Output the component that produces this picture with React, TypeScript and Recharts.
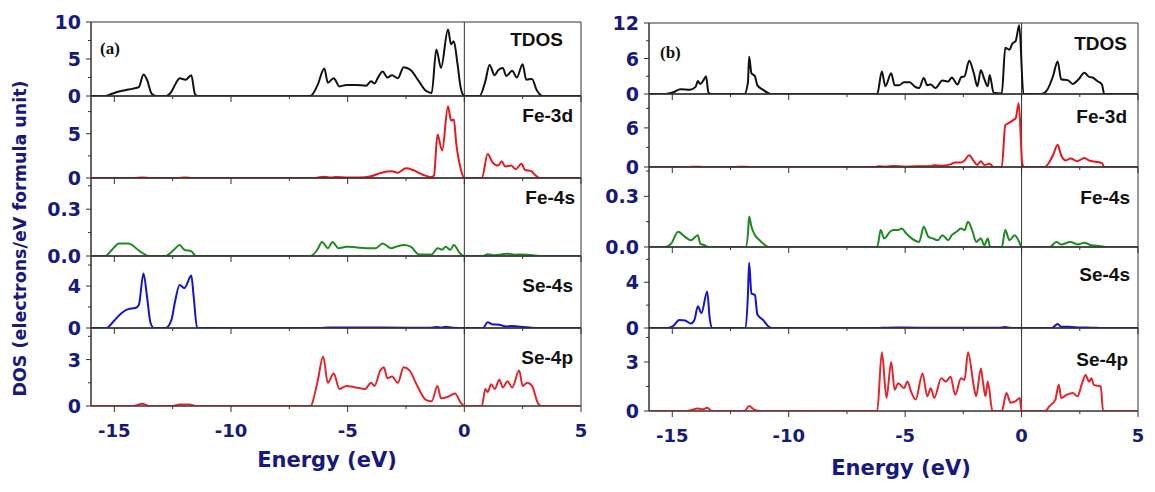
import React from 'react'
import { LineChart, Line, XAxis, YAxis, ReferenceLine, ReferenceArea } from 'recharts'

type Pair = [number, number]

const NAVY = '#18197c'
const FRAME = '#333333'
const SANS = '"Liberation Sans", Arial, sans-serif'
const WIDE = '"DejaVu Sans", sans-serif'

const energyTicks = [-15, -12.5, -10, -7.5, -5, -2.5, 0, 2.5, 5]
const panelTags = ['(a)', '(b)']
const subLabels = ['TDOS', 'Fe-3d', 'Fe-4s', 'Se-4s', 'Se-4p']

// panel (a)
const tdosA: Pair[] = [[-16,0],[-15.4,0],[-15.1,0.3],[-14.8,0.6],[-14.5,0.8],[-14.2,1.0],[-13.95,1.2],[-13.75,2.9],[-13.6,2.2],[-13.4,0.3],[-13.2,0],[-12.8,0],[-12.55,0.6],[-12.35,1.8],[-12.2,2.4],[-11.95,2.2],[-11.7,2.8],[-11.55,0.3],[-11.45,0],[-6.6,0],[-6.3,1.4],[-6.0,3.7],[-5.85,1.8],[-5.6,2.4],[-5.35,1.3],[-5.05,1.5],[-4.65,1.5],[-4.2,1.4],[-4.0,2.0],[-3.85,1.7],[-3.7,2.5],[-3.5,3.3],[-3.3,2.5],[-3.1,2.8],[-2.85,2.4],[-2.6,3.9],[-2.3,3.5],[-1.95,2.0],[-1.65,0.7],[-1.4,0.4],[-1.2,6.3],[-1.0,3.8],[-0.7,9.0],[-0.57,7.0],[-0.45,7.4],[-0.3,4.5],[-0.15,1.0],[0,0],[0.65,0],[0.9,2.0],[1.08,4.2],[1.3,2.8],[1.45,3.5],[1.65,3.8],[1.8,2.7],[2.05,3.4],[2.25,2.5],[2.5,4.3],[2.65,2.2],[2.9,2.3],[3.1,0.8],[3.35,0],[5,0]]
const fe3dA: Pair[] = [[-16,0],[-14.2,0],[-13.8,0.06],[-13.4,0],[-12.3,0],[-12.0,0.05],[-11.6,0],[-6.4,0],[-6.0,0.15],[-5.7,0.05],[-5.5,0.1],[-5.0,0.05],[-4.5,0.05],[-4.0,0.2],[-3.55,0.6],[-3.1,0.75],[-2.85,0.6],[-2.5,1.1],[-2.2,0.9],[-1.8,0.4],[-1.4,0.1],[-1.3,0.3],[-1.15,4.9],[-0.95,3.1],[-0.7,8.1],[-0.57,6.5],[-0.45,6.6],[-0.35,4.0],[-0.15,1.0],[0,0],[0.75,0],[1.0,2.7],[1.2,1.8],[1.45,1.4],[1.6,1.9],[1.75,1.3],[2.0,1.4],[2.2,1.0],[2.45,1.6],[2.6,0.9],[2.85,0.8],[3.05,0.3],[3.25,0],[5,0]]
const fe4sA: Pair[] = [[-16,0],[-15.4,0],[-15.1,0.04],[-14.8,0.08],[-14.4,0.08],[-13.9,0.03],[-13.5,0],[-12.8,0],[-12.45,0.04],[-12.2,0.07],[-12.0,0.04],[-11.7,0.03],[-11.5,0],[-6.6,0],[-6.3,0.04],[-6.1,0.09],[-5.85,0.05],[-5.65,0.09],[-5.4,0.05],[-5.05,0.06],[-4.6,0.055],[-4.2,0.05],[-3.8,0.05],[-3.5,0.08],[-3.15,0.05],[-2.9,0.06],[-2.6,0.07],[-2.3,0.06],[-1.95,0.01],[-1.4,0.01],[-1.15,0.05],[-0.95,0.04],[-0.8,0.06],[-0.6,0.04],[-0.45,0.07],[-0.2,0.02],[0,0],[0.8,0],[1.0,0.012],[1.3,0.005],[1.6,0.01],[1.85,0.015],[2.2,0.008],[2.5,0.01],[3.0,0.004],[3.3,0],[5,0]]
const se4sA: Pair[] = [[-16,0],[-15.35,0],[-15.05,0.6],[-14.8,1.2],[-14.4,1.8],[-14.1,1.9],[-13.95,2.2],[-13.75,5.2],[-13.6,3.0],[-13.45,0.5],[-13.3,0],[-12.8,0],[-12.55,0.8],[-12.4,2.5],[-12.2,4.1],[-12.0,3.8],[-11.7,5.0],[-11.6,3.0],[-11.45,0],[-6.2,0],[-5.8,0.05],[-4.5,0.04],[-3.5,0.04],[-1.5,0.02],[-1.2,0.1],[-1.0,0.03],[-0.8,0.12],[-0.5,0.02],[0,0],[0.8,0],[1.0,0.55],[1.2,0.35],[1.5,0.3],[1.8,0.15],[2.0,0.2],[2.3,0.15],[2.8,0.05],[3.2,0],[5,0]]
const se4pA: Pair[] = [[-16,0],[-14.2,0],[-13.8,0.15],[-13.5,0],[-12.5,0],[-12.2,0.1],[-11.8,0.1],[-11.5,0],[-6.6,0],[-6.3,1.5],[-6.05,3.2],[-5.85,1.5],[-5.6,2.1],[-5.35,1.1],[-5.05,1.3],[-4.65,1.2],[-4.25,1.1],[-4.0,1.5],[-3.85,1.3],[-3.6,2.3],[-3.45,2.5],[-3.3,1.8],[-3.1,1.9],[-2.85,1.5],[-2.6,2.5],[-2.35,2.3],[-2.05,1.4],[-1.65,0.4],[-1.4,0.3],[-1.15,1.3],[-1.0,0.5],[-0.7,0.6],[-0.4,0.8],[-0.15,0.2],[0,0],[0.75,0],[0.9,1.1],[1.0,0.9],[1.15,1.4],[1.3,1.1],[1.5,1.7],[1.65,1.2],[1.85,1.6],[2.05,1.2],[2.35,2.3],[2.5,1.3],[2.7,1.5],[2.9,1.3],[3.15,0.2],[3.3,0],[5,0]]

// panel (b)
const tdosB: Pair[] = [[-16,0],[-15.3,0],[-14.95,0.3],[-14.65,0.8],[-14.25,0.7],[-14.0,1.2],[-13.9,2.2],[-13.8,1.7],[-13.65,2.4],[-13.55,3.0],[-13.45,0.3],[-13.35,0],[-11.9,0],[-11.75,2.0],[-11.7,6.3],[-11.6,3.5],[-11.45,3.0],[-11.35,1.5],[-11.1,0.7],[-10.85,0.1],[-10.7,0],[-6.2,0],[-6.0,3.8],[-5.85,1.3],[-5.6,3.5],[-5.45,1.5],[-5.25,1.5],[-5.05,2.0],[-4.8,2.0],[-4.6,1.3],[-4.4,1.0],[-4.2,2.7],[-4.05,1.5],[-3.9,1.6],[-3.7,1.0],[-3.4,2.3],[-3.15,2.1],[-3.0,2.8],[-2.75,1.6],[-2.6,2.8],[-2.45,3.0],[-2.25,5.6],[-2.05,3.5],[-1.9,1.3],[-1.75,4.0],[-1.6,2.5],[-1.45,1.3],[-1.37,3.2],[-1.2,0.2],[-0.85,0.1],[-0.7,7.8],[-0.52,7.5],[-0.4,8.5],[-0.25,9.0],[-0.1,11.6],[0.08,0],[0.85,0],[1.1,0.7],[1.35,3.0],[1.55,5.5],[1.7,2.5],[2.0,2.3],[2.2,1.7],[2.45,2.5],[2.7,3.6],[2.9,2.9],[3.05,2.8],[3.25,2.2],[3.45,1.6],[3.55,0],[5,0]]
const fe3dB: Pair[] = [[-16,0],[-14.3,0],[-14.0,0.05],[-13.7,0],[-12.3,0],[-12.0,0.05],[-11.7,0],[-6.3,0],[-6.15,0.1],[-5.8,0.05],[-5.5,0.15],[-5.0,0.05],[-4.5,0.1],[-4.0,0.1],[-3.75,0.25],[-3.45,0.2],[-3.05,0.4],[-2.85,0.7],[-2.6,0.7],[-2.45,1.0],[-2.25,1.8],[-2.05,0.9],[-1.9,0.3],[-1.75,0.9],[-1.6,0.3],[-1.37,0.5],[-1.2,0],[-0.85,0],[-0.7,6.4],[-0.52,6.8],[-0.36,7.2],[-0.25,7.5],[-0.12,9.8],[0.03,0.5],[0.1,0],[1.0,0],[1.2,0.8],[1.35,1.8],[1.55,3.4],[1.7,1.8],[1.9,1.0],[2.1,1.3],[2.4,0.9],[2.7,1.4],[2.9,1.0],[3.2,0.8],[3.45,0.6],[3.55,0],[5,0]]
const fe4sB: Pair[] = [[-16,0],[-15.3,0],[-15.05,0.02],[-14.75,0.09],[-14.45,0.06],[-14.2,0.04],[-13.9,0.07],[-13.8,0.02],[-13.6,0.01],[-13.45,0],[-11.85,0],[-11.75,0.08],[-11.7,0.18],[-11.6,0.12],[-11.45,0.07],[-11.25,0.04],[-11.0,0.01],[-10.85,0],[-6.2,0],[-6.05,0.1],[-5.9,0.05],[-5.65,0.09],[-5.5,0.1],[-5.3,0.1],[-5.15,0.11],[-4.95,0.08],[-4.8,0.06],[-4.6,0.04],[-4.4,0.03],[-4.2,0.12],[-4.0,0.06],[-3.8,0.05],[-3.6,0.04],[-3.4,0.07],[-3.15,0.04],[-3.0,0.07],[-2.8,0.09],[-2.6,0.11],[-2.45,0.1],[-2.3,0.15],[-2.1,0.09],[-1.95,0.03],[-1.75,0.05],[-1.6,0.01],[-1.45,0.05],[-1.35,0],[-0.85,0],[-0.7,0.1],[-0.52,0.04],[-0.3,0.07],[-0.1,0.03],[0,0],[1.2,0],[1.5,0.03],[1.7,0.015],[2.1,0.03],[2.4,0.015],[2.7,0.025],[3.0,0.01],[3.4,0.005],[3.6,0],[5,0]]
const se4sB: Pair[] = [[-16,0],[-15.2,0],[-14.95,0.2],[-14.7,0.7],[-14.45,0.65],[-14.2,0.4],[-14.05,0.7],[-13.9,1.9],[-13.75,1.3],[-13.5,3.2],[-13.4,1.0],[-13.3,0],[-11.85,0],[-11.75,3.0],[-11.7,5.7],[-11.6,3.0],[-11.45,2.9],[-11.35,1.2],[-11.1,0.7],[-10.85,0.1],[-10.7,0],[-6.2,0],[-5.8,0.03],[-5.0,0.04],[-4.0,0.02],[-1.0,0.02],[-0.7,0.08],[-0.5,0.02],[0,0],[1.3,0],[1.55,0.35],[1.7,0.1],[2.0,0.1],[2.5,0.05],[3.0,0.03],[3.5,0],[5,0]]
const se4pB: Pair[] = [[-16,0],[-14.4,0],[-14.2,0.05],[-13.9,0.15],[-13.7,0.1],[-13.5,0.2],[-13.3,0],[-11.9,0],[-11.7,0.3],[-11.5,0.1],[-11.2,0],[-6.2,0],[-6.0,3.6],[-5.8,0.8],[-5.6,3.0],[-5.45,1.3],[-5.3,1.7],[-5.05,1.4],[-4.9,1.8],[-4.75,1.2],[-4.55,0.7],[-4.25,2.3],[-4.05,0.9],[-3.9,1.4],[-3.75,0.8],[-3.45,2.0],[-3.25,1.8],[-3.05,2.1],[-2.85,1.0],[-2.6,2.0],[-2.45,1.9],[-2.3,3.6],[-2.05,1.5],[-1.95,0.9],[-1.75,2.6],[-1.65,1.7],[-1.55,0.9],[-1.45,1.8],[-1.25,0],[-0.85,0],[-0.65,1.1],[-0.47,0.5],[-0.25,0.6],[-0.08,0.8],[0,0],[1.0,0],[1.2,0.3],[1.45,0.7],[1.6,1.6],[1.7,0.8],[1.95,1.0],[2.2,1.1],[2.4,0.9],[2.6,1.7],[2.75,2.2],[2.9,1.8],[3.0,2.0],[3.1,1.6],[3.4,1.5],[3.5,0],[5,0]]

const colors = ['#111111', '#e4191c', '#1f8a22', '#1414d0', '#e2262e']
const yTicksA = [[0, 2.5, 5, 7.5, 10], [0, 2.5, 5, 7.5], [0, 0.15, 0.3, 0.45], [0, 2, 4, 6], [0, 1.5, 3, 4.5]]
const yMajorA = [[0, 5, 10], [0, 5], [0, 0.3], [0, 4], [0, 3]]
const yMaxA = [10, 9.26, 0.5, 6.86, 5.04]
const yTicksB = [[0, 3, 6, 9, 12], [0, 3, 6, 9], [0, 0.15, 0.3, 0.45], [0, 2, 4, 6], [0, 1.5, 3, 4.5]]
const yMajorB = [[0, 6, 12], [0, 6], [0, 0.3], [0, 4], [0, 3]]
const yMaxB = [12, 11.2, 0.474, 7.08, 5.08]

const rows = (p: Pair[]) => p.map(([e, v]) => ({ e, v }))

const YW = 91
const PT = 4
const PR = 10

type SubProps = {
  pairs: Pair[]
  color: string
  yMax: number
  ticks: number[]
  major: number[]
  dec: number
  left: number
  top: number
  bottom: number
  width: number
  last: boolean
}

function Sub({ pairs, color, yMax, ticks, major, dec, left, top, bottom, width, last }: SubProps) {
  const h = bottom - top
  const xh = last ? 50 : 10
  const yTick = (p: any) => {
    const v = p.payload.value
    const isMajor = major.includes(v)
    return (
      <g>
        <line x1={p.x - (isMajor ? 5 : 3)} x2={p.x} y1={p.y} y2={p.y} stroke={FRAME} strokeWidth={1} />
        {isMajor && (
          <text x={p.x - 10} y={p.y} dy={7} textAnchor="end" fontSize={19} fontWeight="bold" fill={NAVY} fontFamily={WIDE}>
            {v.toFixed(dec)}
          </text>
        )}
      </g>
    )
  }
  const xTick = (p: any) => {
    const v = p.payload.value
    const isMajor = v % 5 === 0
    return (
      <g>
        <line x1={p.x} x2={p.x} y1={p.y} y2={p.y + (isMajor ? 6 : 3)} stroke={FRAME} strokeWidth={1} />
        {last && isMajor && (
          <text x={p.x} y={p.y + 31} textAnchor="middle" fontSize={18} fontWeight="bold" fill={NAVY} fontFamily={WIDE}>
            {v}
          </text>
        )}
      </g>
    )
  }
  return (
    <div style={{ position: 'absolute', left: left - YW, top: top - PT }}>
      <LineChart width={YW + width + PR} height={PT + h + xh} data={rows(pairs)} margin={{ top: PT, right: PR, left: 0, bottom: 0 }}>
        <XAxis dataKey="e" type="number" domain={[-16, 5]} allowDataOverflow ticks={energyTicks} interval={0}
          height={xh} tickSize={0} tickMargin={0} tickLine={false} tick={xTick} axisLine={{ stroke: FRAME }} />
        <YAxis type="number" domain={[0, yMax]} allowDataOverflow ticks={ticks} interval={0}
          width={YW} tickSize={0} tickMargin={0} tickLine={false} tick={yTick} axisLine={{ stroke: FRAME }} />
        <ReferenceArea x1={-16} x2={5} y1={0} y2={yMax} fill="none" stroke={FRAME} strokeWidth={1} />
        <ReferenceLine x={0} stroke={FRAME} strokeWidth={1} />
        <Line type="monotone" dataKey="v" stroke={color} strokeWidth={2} dot={false} isAnimationActive={false} />
      </LineChart>
    </div>
  )
}

const panels = [
  {
    left: 91, width: 490, bands: [22, 96, 178, 256, 328, 406], sets: [tdosA, fe3dA, fe4sA, se4sA, se4pA],
    yTicks: yTicksA, yMajor: yMajorA, yMax: yMaxA,
    labelRight: [563, 573, 575, 573, 573], labelMid: [39.5, 115, 197, 285, 357],
    tag: [100, 54], energy: [327, 467],
  },
  {
    left: 649, width: 489, bands: [23, 94, 167, 247, 328, 411], sets: [tdosB, fe3dB, fe4sB, se4sB, se4pB],
    yTicks: yTicksB, yMajor: yMajorB, yMax: yMaxB,
    labelRight: [1127, 1127, 1130, 1130, 1128], labelMid: [43.5, 116, 197, 274, 359],
    tag: [660, 58], energy: [901, 475],
  },
]

export default function App() {
  return (
    <div style={{ position: 'absolute', left: 0, top: 0, width: 1155, height: 492, background: '#fff', overflow: 'hidden' }}>
      <style>{'svg{overflow:visible}'}</style>
      {panels.map((pn, k) =>
        pn.sets.map((s, i) => (
          <Sub key={`${k}-${i}`} pairs={s} color={colors[i]} yMax={pn.yMax[i]} ticks={pn.yTicks[i]} major={pn.yMajor[i]}
            dec={i === 2 ? 1 : 0} left={pn.left} top={pn.bands[i]} bottom={pn.bands[i + 1]} width={pn.width} last={i === 4} />
        ))
      )}
      <svg width={1155} height={492} style={{ position: 'absolute', left: 0, top: 0, pointerEvents: 'none' }}>
        {panels.map((pn, k) => (
          <g key={k}>
            {subLabels.map((t, i) => (
              <text key={t} x={pn.labelRight[i]} y={pn.labelMid[i] + 6.8} textAnchor="end" fontSize={19}
                fontWeight="bold" fill="#111" fontFamily={SANS}>{t}</text>
            ))}
            <text x={pn.tag[0]} y={pn.tag[1]} fontSize={17} fontWeight="bold" fill="#111"
              fontFamily='"Liberation Serif", serif'>{panelTags[k]}</text>
            <text x={pn.energy[0]} y={pn.energy[1]} textAnchor="middle" fontSize={21} fontWeight="bold" fill={NAVY}
              fontFamily={WIDE}>Energy (eV)</text>
          </g>
        ))}
        <text x={26} y={238.5} transform="rotate(-90 26 238.5)" textAnchor="middle" fontSize={17.5} fontWeight="bold"
          fill={NAVY} fontFamily={WIDE}>DOS (electrons/eV formula unit)</text>
      </svg>
    </div>
  )
}
